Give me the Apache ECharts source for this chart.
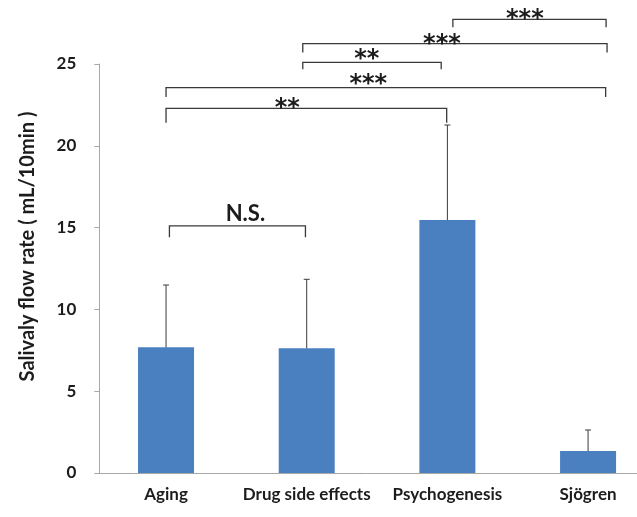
<!DOCTYPE html>
<html>
<head>
<meta charset="utf-8">
<script src="https://cdn.jsdelivr.net/npm/echarts@6/dist/echarts.min.js"></script>
<style>
html,body{margin:0;padding:0;background:#fff;}
#c{width:637px;height:517px;}
</style>
</head>
<body>
<div id="c"></div>
<script>
// ---- data ----
const categories = ['Aging', 'Drug side effects', 'Psychogenesis', 'Sjögren'];
const means = [7.68, 7.62, 15.46, 1.34];
const sds = [3.81, 4.22, 5.81, 1.29];
const yTicks = [0, 5, 10, 15, 20, 25];

// significance brackets (x in category units, y in data units)
const bracketFrom = [0, 0, 0.972, 0.972, 2.039, 0.024];
const bracketTo = [1.995, 3.125, 1.956, 3.135, 3.128, 0.991];
const bracketLevel = [22.29, 23.55, 25.10, 26.25, 27.73, 15.10];
const bracketDrop = [21.41, 22.98, 24.68, 25.70, 27.24, 14.41];
const bracketLabel = ['**', '***', '**', '***', '***', 'N.S.'];
const labelX = [0.862, 1.438, 1.427, 1.961, 2.551, 0.564];
const labelY = [22.63, 24.08, 25.65, 26.53, 28.07, 15.83];

const chart = echarts.init(document.getElementById('c'), null, {renderer: 'canvas'});

const errData = categories.map((c, i) => [i, means[i], means[i] + sds[i]]);
const brData = bracketFrom.map((f, i) => [f, bracketTo[i], bracketLevel[i], bracketDrop[i], labelX[i], labelY[i], i]);

const txtColor = '#1c1c1c';

chart.setOption({
  animation: false,
  grid: {left: 95.7, top: 64, height: 409, width: 562.7, outerBoundsMode: 'none', containLabel: false},
  xAxis: [{
    type: 'category',
    data: categories,
    axisLine: {lineStyle: {color: '#a8a8a8', width: 1}},
    axisTick: {show: false},
    axisLabel: {interval: 0, margin: 13, color: txtColor, fontFamily: 'Lato', fontWeight: 'bold', fontSize: 17}
  }, {
    type: 'value', min: -0.5, max: 3.5, show: false
  }],
  yAxis: {
    type: 'value', min: yTicks[0], max: yTicks[yTicks.length - 1], interval: 5,
    offset: -3.6,
    name: 'Salivaly flow rate ( mL/10min )',
    nameLocation: 'middle', nameGap: 62,
    nameTextStyle: {color: txtColor, fontFamily: 'Lato', fontWeight: 'bold', fontSize: 20, padding: [0, 0, 0, 44]},
    axisLine: {show: true, onZero: false, lineStyle: {color: '#a8a8a8', width: 1}},
    axisTick: {show: true, length: 5, lineStyle: {color: '#a8a8a8'}},
    splitLine: {show: false},
    axisLabel: {margin: 23, color: txtColor, fontFamily: 'Lato', fontWeight: 'bold', fontSize: 17}
  },
  series: [{
    type: 'bar', data: means, barWidth: 56,
    itemStyle: {color: '#4a7fc0'}
  }, {
    type: 'custom', xAxisIndex: 0, data: errData, z: 3,
    renderItem: function (params, api) {
      const b = api.coord([api.value(0), api.value(1)]);
      const t = api.coord([api.value(0), api.value(2)]);
      const st = {stroke: '#3a3a3a', lineWidth: 1};
      return {type: 'group', children: [
        {type: 'line', shape: {x1: t[0], y1: b[1], x2: t[0], y2: t[1]}, style: st},
        {type: 'line', shape: {x1: t[0] - 3, y1: t[1], x2: t[0] + 3, y2: t[1]}, style: st}
      ]};
    }
  }, {
    type: 'custom', xAxisIndex: 1, data: brData, z: 4, clip: false,
    renderItem: function (params, api) {
      const p1 = api.coord([api.value(0), api.value(2)]);
      const p2 = api.coord([api.value(1), api.value(2)]);
      const d1 = api.coord([api.value(0), api.value(3)]);
      const lp = api.coord([api.value(4), api.value(5)]);
      const idx = api.value(6);
      const lab = bracketLabel[idx];
      const isNS = lab === 'N.S.';
      const st = {stroke: '#3a3a3a', lineWidth: 1.3, fill: null};
      return {type: 'group', children: [
        {type: 'polyline', shape: {points: [[p1[0], d1[1]], [p1[0], p1[1]], [p2[0], p2[1]], [p2[0], d1[1]]]}, style: st},
        {type: 'text', x: lp[0], y: lp[1] + (isNS ? 0 : 6),
          style: {text: lab, align: 'center', verticalAlign: 'middle', fill: txtColor,
            font: isNS ? 'bold 22px Lato' : 'bold 24px "DejaVu Sans"'}}
      ]};
    }
  }]
});
</script>
</body>
</html>
